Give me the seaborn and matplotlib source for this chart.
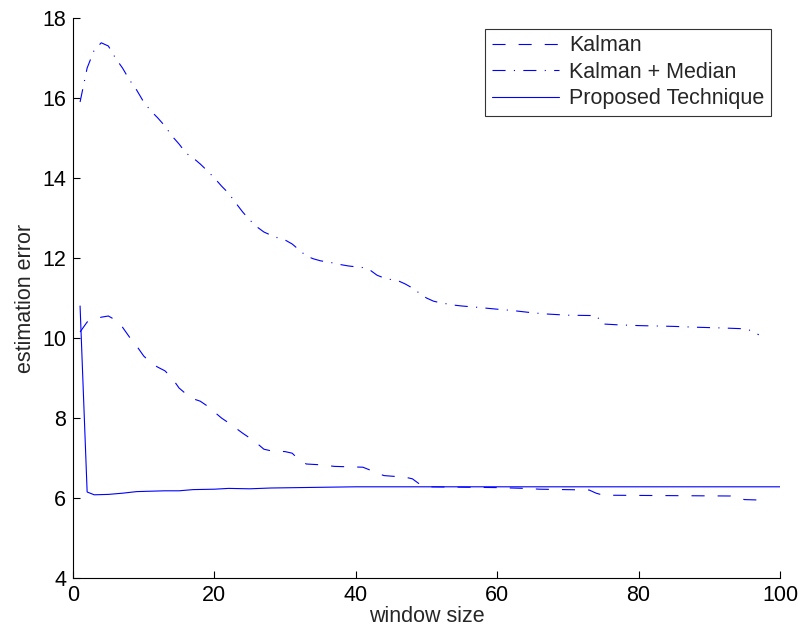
import matplotlib
matplotlib.use("Agg")
import matplotlib.pyplot as plt
import seaborn as sns
import pandas as pd

# ---- data ----
km_x = [1, 2, 3, 4, 5, 6, 7, 8, 9, 10, 11, 12, 13, 14, 15, 16, 17, 18, 19, 20,
        21, 22, 23, 24, 25, 26, 27, 28, 29, 30, 31, 32, 33, 34, 35, 36, 37, 38, 39, 40,
        41, 42, 43, 44, 45, 46, 47, 48, 49, 50, 51, 52, 53, 54, 55, 57, 60, 62, 65, 67,
        70, 74, 75, 77, 80, 85, 88, 92, 95, 96, 97]
km_y = [15.9, 16.75, 17.2, 17.38, 17.3, 17.0, 16.75, 16.45, 16.2, 15.9, 15.68, 15.5, 15.3, 15.05,
        14.85, 14.62, 14.5, 14.35, 14.18, 14.0, 13.8, 13.62, 13.38, 13.15, 12.95, 12.78, 12.65,
        12.57, 12.5, 12.45, 12.35, 12.2, 12.05, 11.98, 11.93, 11.9, 11.87, 11.83, 11.8, 11.78,
        11.76, 11.7, 11.57, 11.5, 11.46, 11.43, 11.35, 11.25, 11.12, 11.0, 10.92, 10.88, 10.85,
        10.82, 10.8, 10.77, 10.72, 10.69, 10.63, 10.6, 10.57, 10.56, 10.35, 10.33, 10.31, 10.29,
        10.27, 10.25, 10.23, 10.18, 10.08]

k_x = [1, 2, 3, 4, 5, 6, 7, 8, 9, 10, 11, 12, 13, 14, 15, 16, 17, 18, 19, 20,
       21, 22, 23, 24, 25, 26, 27, 28, 30, 31, 32, 33, 35, 37, 41, 42, 43, 44, 47, 48,
       49, 50, 55, 60, 64, 66, 73, 74, 75, 93, 94, 95, 97]
k_y = [10.15, 10.4, 10.47, 10.52, 10.55, 10.45, 10.27, 10.02, 9.8, 9.55, 9.38, 9.27, 9.18, 9.0,
       8.75, 8.6, 8.48, 8.42, 8.3, 8.15, 8.0, 7.88, 7.75, 7.62, 7.5, 7.37, 7.22, 7.18, 7.16,
       7.12, 6.95, 6.85, 6.83, 6.79, 6.77, 6.7, 6.62, 6.56, 6.52, 6.48, 6.35, 6.28, 6.27, 6.26,
       6.24, 6.22, 6.2, 6.12, 6.07, 6.05, 6.0, 5.96, 5.95]

p_x = [1, 2, 3, 5, 7, 9, 11, 13, 15, 17, 20, 22, 25, 28, 32, 36, 40, 50, 60, 70, 80, 90, 100]
p_y = [10.8, 6.15, 6.08, 6.09, 6.12, 6.16, 6.17, 6.18, 6.18, 6.21, 6.22, 6.24, 6.23, 6.25,
       6.26, 6.27, 6.28, 6.28, 6.28, 6.28, 6.28, 6.28, 6.28]

labels = ["Kalman", "Kalman + Median", "Proposed Technique"]
x_ticks = [0, 20, 40, 60, 80, 100]
y_ticks = [4, 6, 8, 10, 12, 14, 16, 18]

sns.set_style("white")
plt.rcParams['font.family'] = ['Liberation Sans', 'DejaVu Sans']
plt.rcParams['lines.scale_dashes'] = False

FS = 15.5
fig = plt.figure(figsize=(8.04, 6.39), dpi=100)
ax = fig.add_axes([73/804, 1-578/639, (780-73)/804, (578-18)/639])

blue = (0, 0, 1)
df_k = pd.DataFrame({"x": k_x, "y": k_y})
df_km = pd.DataFrame({"x": km_x, "y": km_y})
df_p = pd.DataFrame({"x": p_x, "y": p_y})

sns.lineplot(data=df_k, x="x", y="y", ax=ax, color=blue, lw=0.8,
             linestyle=(0, (9.4, 9.4)), label=labels[0])
sns.lineplot(data=df_km, x="x", y="y", ax=ax, color=blue, lw=0.8,
             linestyle=(0, (9.4, 6.0, 0.8, 6.0)), label=labels[1])
sns.lineplot(data=df_p, x="x", y="y", ax=ax, color=blue, lw=0.8,
             linestyle="-", label=labels[2])

ax.set_xlim(0, 100)
ax.set_ylim(4, 18)
ax.set_xticks(x_ticks)
ax.set_yticks(y_ticks)
ax.tick_params(direction="in", length=5, width=0.8, labelsize=FS, colors="black",
               top=False, right=False, bottom=True, left=True, pad=5)
for s in ["top", "right"]:
    ax.spines[s].set_visible(False)
for s in ["left", "bottom"]:
    ax.spines[s].set_color("black")
    ax.spines[s].set_linewidth(0.8)

ax.set_xlabel("window size", fontsize=FS, labelpad=0)
ax.set_ylabel("estimation error", fontsize=FS, labelpad=4)

leg = ax.legend(loc="upper right", bbox_to_anchor=(771/804, 1 - 29/639),
                bbox_transform=fig.transFigure,
                fontsize=FS, frameon=True, fancybox=False, edgecolor="black",
                handlelength=3.1, handletextpad=0.5, borderaxespad=0.0,
                labelspacing=0.25, borderpad=0.3)
leg.get_frame().set_linewidth(0.8)

fig.savefig("out.png", dpi=100)
